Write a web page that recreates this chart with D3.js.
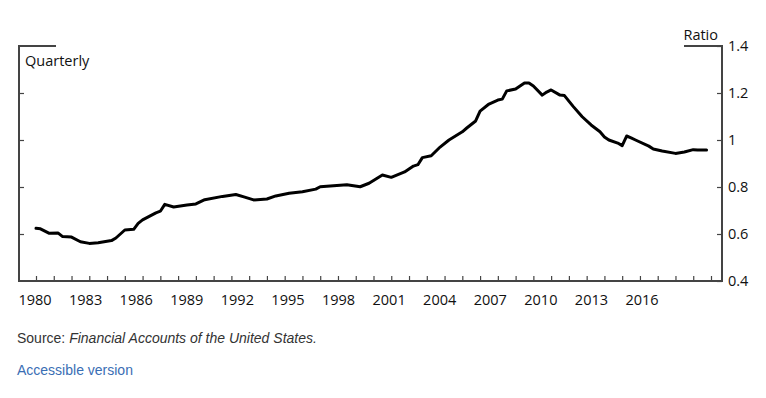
<!DOCTYPE html>
<html>
<head>
<meta charset="utf-8">
<script src="https://cdn.jsdelivr.net/npm/d3@7"></script>
<style>
  body { margin: 0; background: #fff; }
  .lbl { font-family: "Open Sans", sans-serif; font-size: 14.5px; fill: #111; }
  .note { font-family: "Liberation Sans", Arial, sans-serif; font-size: 14px; fill: #333; }
  .link { font-family: "Liberation Sans", Arial, sans-serif; font-size: 14px; fill: #3a6eb4; }
</style>
</head>
<body>
<svg id="chart"></svg>
<script>
const dates = [
  1980.0, 1980.25, 1980.75, 1981.25, 1981.5, 1982.0, 1982.5, 1983.0, 1983.5, 1984.25,
  1984.5, 1985.0, 1985.5, 1985.75, 1986.0, 1986.75, 1987.0, 1987.25, 1987.75, 1988.5,
  1989.0, 1989.5, 1990.5, 1991.25, 1991.75, 1992.25, 1993.0, 1993.5, 1994.25, 1995.0,
  1995.75, 1996.0, 1997.5, 1998.25, 1998.75, 1999.5, 2000.0, 2000.75, 2001.25, 2001.5,
  2001.75, 2002.25, 2002.75, 2003.25, 2004.0, 2004.25, 2004.75, 2005.0, 2005.5, 2006.0,
  2006.25, 2006.5, 2007.0, 2007.5, 2007.75, 2008.0, 2008.5, 2008.75, 2009.0, 2009.5,
  2009.75, 2010.25, 2010.75, 2011.25, 2011.75, 2012.0, 2012.25, 2012.75, 2013.0, 2013.25,
  2013.5, 2013.75, 2014.5, 2014.75, 2015.25, 2016.0, 2016.5, 2017.0, 2017.25, 2017.75];
const ratio = [
  0.624, 0.622, 0.603, 0.604, 0.589, 0.587, 0.567, 0.560, 0.563, 0.572,
  0.583, 0.617, 0.620, 0.645, 0.660, 0.690, 0.697, 0.726, 0.715, 0.723,
  0.728, 0.746, 0.760, 0.768, 0.757, 0.745, 0.749, 0.762, 0.773, 0.780,
  0.791, 0.801, 0.810, 0.801, 0.816, 0.851, 0.841, 0.864, 0.889, 0.895,
  0.925, 0.933, 0.970, 1.000, 1.035, 1.051, 1.081, 1.123, 1.153, 1.170,
  1.174, 1.209, 1.217, 1.243, 1.243, 1.230, 1.191, 1.204, 1.213, 1.191,
  1.189, 1.142, 1.099, 1.064, 1.035, 1.013, 1.000, 0.987, 0.976, 1.017,
  1.009, 1.000, 0.974, 0.962, 0.953, 0.943, 0.949, 0.959, 0.957, 0.957];
const yearTicks = d3.range(1980, 2019);
const yearLabels = ["1980", "1983", "1986", "1989", "1992", "1995", "1998",
  "2001", "2004", "2007", "2010", "2013", "2016"];
const ratioTicks = [0.4, 0.6, 0.8, 1.0, 1.2, 1.4];

const data = dates.map((d, i) => ({ date: d, value: ratio[i] }));

const width = 766, height = 398;
const frame = { left: 19, right: 722, top: 46, bottom: 281 };

const svg = d3.select("#chart").attr("width", width).attr("height", height);

const x = d3.scaleLinear().domain([1980, 2018]).range([36, 711]);
const xLabel = d3.scalePoint().domain(yearLabels).range([34.5, 641.5]);
const y = d3.scaleLinear().domain([0.4, 1.4]).range([frame.bottom, frame.top]);

const axisColor = "#444";

// bottom ticks (pointing up)
const xAxis = svg.append("g")
  .attr("transform", `translate(0,${frame.bottom})`)
  .call(d3.axisBottom(x).tickValues(yearTicks).tickSize(-5).tickFormat(""));
xAxis.select(".domain").remove();
xAxis.selectAll(".tick line").attr("stroke", axisColor).attr("stroke-width", 1.2);

// year labels
const xLab = svg.append("g")
  .attr("transform", `translate(0,${frame.bottom})`)
  .call(d3.axisBottom(xLabel).tickSize(0).tickPadding(14));
xLab.select(".domain").remove();
xLab.selectAll("text").attr("class", "lbl").attr("font-size", null).attr("font-family", null);

// left axis ticks (pointing right)
const yLeft = svg.append("g")
  .attr("transform", `translate(${frame.left},0)`)
  .call(d3.axisLeft(y).tickValues([0.6, 0.8, 1.0, 1.2]).tickSize(-5).tickFormat(""));
yLeft.select(".domain").remove();
yLeft.selectAll(".tick line").attr("stroke", axisColor).attr("stroke-width", 1.2);

// right axis with labels, ticks pointing left
const yRight = svg.append("g")
  .attr("transform", `translate(${frame.right},0)`)
  .call(d3.axisRight(y).tickValues(ratioTicks).tickSize(-5).tickPadding(6)
    .tickFormat(d => d === 1 ? "1" : d3.format(".1f")(d)));
yRight.select(".domain").remove();
yRight.selectAll(".tick line").attr("stroke", axisColor).attr("stroke-width", 1.2);
yRight.selectAll("text").attr("class", "lbl").attr("font-size", null).attr("font-family", null);

// frame
const frameG = svg.append("g").attr("stroke", axisColor).attr("stroke-width", 2).attr("fill", "none");
frameG.append("path")
  .attr("d", `M${frame.left + 37},${frame.top}H${frame.left}V${frame.bottom}H${frame.right}V${frame.top}H${frame.right - 38}`);

// series
const line = d3.line().x(d => x(d.date)).y(d => y(d.value));
svg.append("path")
  .datum(data)
  .attr("fill", "none")
  .attr("stroke", "#000")
  .attr("stroke-width", 3)
  .attr("stroke-linejoin", "round")
  .attr("stroke-linecap", "round")
  .attr("d", line);

// titles
svg.append("text").attr("class", "lbl").attr("x", 25).attr("y", 66).text("Quarterly");
svg.append("text").attr("class", "lbl").attr("x", 718).attr("y", 40)
  .attr("text-anchor", "end").text("Ratio");

// notes
const src = svg.append("text").attr("class", "note").attr("x", 17).attr("y", 343);
src.append("tspan").text("Source: ");
src.append("tspan").attr("font-style", "italic").text("Financial Accounts of the United States.");
svg.append("text").attr("class", "link").attr("x", 17).attr("y", 375).text("Accessible version");
</script>
</body>
</html>
